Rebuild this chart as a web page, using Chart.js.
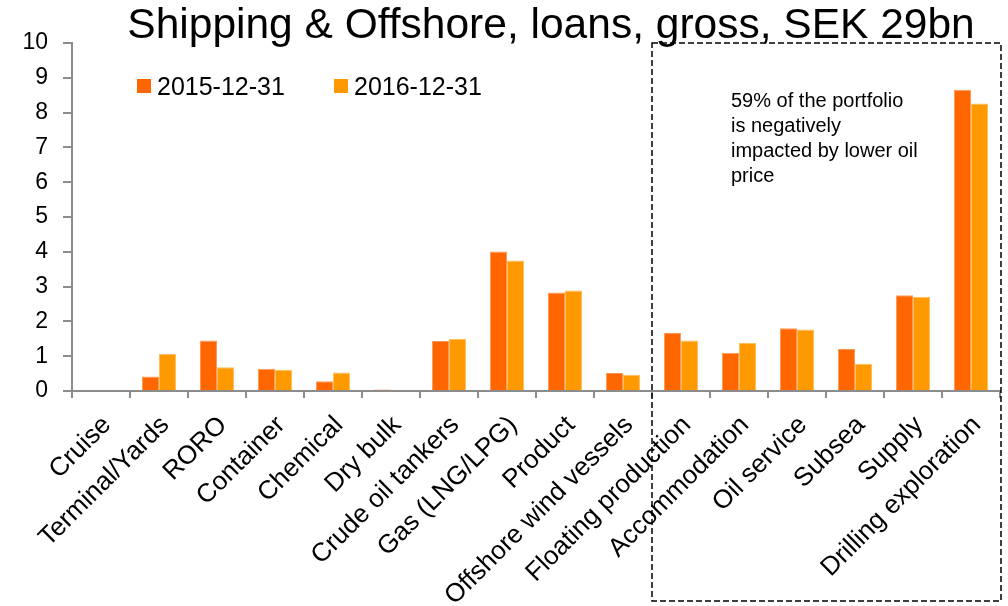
<!DOCTYPE html>
<html>
<head>
<meta charset="utf-8">
<script src="https://cdn.jsdelivr.net/npm/chart.js@4/dist/chart.umd.min.js"></script>
<style>
  html, body { margin: 0; padding: 0; background: #fff; }
  #wrap { width: 1008px; height: 606px; }
</style>
</head>
<body>
<div id="wrap"><canvas id="c" width="1008" height="606"></canvas></div>
<script>
// Loan book by segment, SEK bn
const categories = [
  'Cruise', 'Terminal/Yards', 'RORO', 'Container', 'Chemical', 'Dry bulk',
  'Crude oil tankers', 'Gas (LNG/LPG)', 'Product', 'Offshore wind vessels',
  'Floating production', 'Accommodation', 'Oil service', 'Subsea', 'Supply',
  'Drilling exploration'
];
const seriesNames = ['2015-12-31', '2016-12-31'];
const loans2015 = [0, 0.42, 1.45, 0.64, 0.28, 0.04, 1.44, 4.01, 2.83, 0.52, 1.67, 1.10, 1.80, 1.21, 2.75, 8.66];
const loans2016 = [0, 1.07, 0.68, 0.61, 0.53, 0, 1.50, 3.75, 2.89, 0.47, 1.45, 1.38, 1.77, 0.78, 2.71, 8.26];
const yTicks = [0, 1, 2, 3, 4, 5, 6, 7, 8, 9, 10];

const titleText = 'Shipping & Offshore, loans, gross, SEK 29bn';
const noteLines = ['59% of the portfolio', 'is negatively', 'impacted by lower oil', 'price'];
const firstOilCategory = 'Floating production';

const FONT = '"Liberation Sans", Arial, Helvetica, sans-serif';
const AXIS_GREY = '#8c8c8c';
const colors = ['#FF6600', '#FF9900'];
const edgeColors = ['#FF9A5C', '#FFBE5C'];

// Title, in-plot legend, and the dashed oil-exposure box with its note
const decorations = {
  id: 'decorations',
  afterDraw(chart) {
    const ctx = chart.ctx;
    const x = chart.scales.x, y = chart.scales.y;
    ctx.save();

    ctx.fillStyle = '#000';
    ctx.font = '42.5px ' + FONT;
    ctx.textAlign = 'center';
    ctx.textBaseline = 'alphabetic';
    ctx.fillText(titleText, 551, 38);

    // legend
    ctx.font = '25px ' + FONT;
    ctx.textAlign = 'left';
    const legendX = [137, 334];
    chart.data.datasets.forEach((ds, i) => {
      ctx.fillStyle = ds.backgroundColor;
      ctx.fillRect(legendX[i], 79, 14, 14);
      ctx.fillStyle = '#000';
      ctx.fillText(ds.label, legendX[i] + 20, 95);
    });

    // dashed box around the oil-related segments
    const idx = categories.indexOf(firstOilCategory);
    const left = x.getPixelForValue(idx - 0.5);
    const right = chart.chartArea.right + 1;
    const top = y.getPixelForValue(10);
    const bottom = chart.height - 5;
    ctx.strokeStyle = '#000';
    ctx.lineWidth = 1.5;
    ctx.setLineDash([6, 3]);
    ctx.strokeRect(left, top, right - left, bottom - top);
    ctx.setLineDash([]);

    ctx.font = '20px ' + FONT;
    ctx.fillStyle = '#000';
    noteLines.forEach((line, i) => ctx.fillText(line, left + 79, 107 + i * 25));

    ctx.restore();
  }
};

new Chart(document.getElementById('c'), {
  type: 'bar',
  data: {
    labels: categories,
    datasets: [
      { label: seriesNames[0], data: loans2015, backgroundColor: colors[0],
        borderColor: edgeColors[0], borderWidth: 1, borderSkipped: 'bottom' },
      { label: seriesNames[1], data: loans2016, backgroundColor: colors[1],
        borderColor: edgeColors[1], borderWidth: 1, borderSkipped: 'bottom' }
    ]
  },
  options: {
    responsive: false,
    devicePixelRatio: 1,
    animation: false,
    events: [],
    layout: { padding: { top: 43, right: 8, left: 0, bottom: 0 } },
    datasets: { bar: { barPercentage: 1.0, categoryPercentage: 0.59 } },
    plugins: { legend: { display: false }, title: { display: false }, tooltip: { enabled: false } },
    scales: {
      x: {
        grid: { display: true, drawOnChartArea: false, drawTicks: true, tickLength: 7,
                color: AXIS_GREY, lineWidth: 2, offset: true },
        border: { display: true, color: AXIS_GREY, width: 2 },
        ticks: { autoSkip: false, maxRotation: 45, minRotation: 45, padding: 12, labelOffset: 6,
                 color: '#000', font: { family: FONT, size: 26 } },
        afterFit(scale) { scale.height = 215; }
      },
      y: {
        min: 0, max: 10,
        afterBuildTicks(scale) { scale.ticks = yTicks.map(v => ({ value: v })); },
        grid: { display: true, drawOnChartArea: false, drawTicks: true, tickLength: 9,
                color: AXIS_GREY, lineWidth: 2 },
        border: { display: true, color: AXIS_GREY, width: 2 },
        ticks: { padding: 15, color: '#000', font: { family: FONT, size: 23 } },
        afterFit(scale) { scale.width = 72; }
      }
    }
  },
  plugins: [decorations]
});
</script>
</body>
</html>
